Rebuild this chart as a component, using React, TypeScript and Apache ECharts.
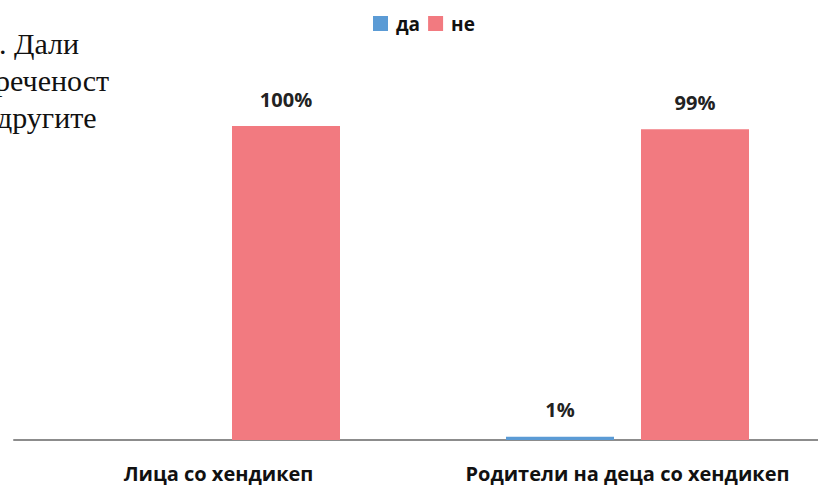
import React, { useEffect, useRef } from "react";
import * as echarts from "echarts";

const categories = ["Лица со хендикеп", "Родители на деца со хендикеп"];
const seriesNames = ["да", "не"];
const daValues = [0, 1];
const neValues = [100, 99];
const sideText = [". Дали", "реченост", "другите"];

export default function App() {
  const ref = useRef<HTMLDivElement>(null);
  useEffect(() => {
    if (!ref.current) return;
    const chart = echarts.init(ref.current, null, { renderer: "svg" });
    const font = "'Open Sans', 'Noto Sans', sans-serif";
    const sideLeft = [-1, -5, -3];
    chart.setOption({
      animation: false,
      backgroundColor: "#ffffff",
      legend: {
        data: seriesNames,
        left: 368,
        top: 9,
        itemWidth: 15,
        itemHeight: 15,
        itemGap: 8,
        icon: "rect",
        textStyle: { fontFamily: font, fontWeight: "bold", fontSize: 19, color: "#111", padding: [0, 0, 0, 3] },
      },
      graphic: sideText.map((t, i) => ({
        type: "text",
        left: sideLeft[i],
        top: 28 + i * 37,
        style: { text: t, font: "30px 'Liberation Serif', 'DejaVu Serif', serif", fill: "#111" },
      })),
      grid: { left: 14, right: 0, top: 126, bottom: 47, containLabel: false },
      xAxis: {
        type: "category",
        data: categories,
        axisLine: { lineStyle: { color: "#8c8c8c", width: 2 } },
        axisTick: { show: false },
        axisLabel: {
          interval: 0,
          hideOverlap: false,
          fontFamily: font,
          fontWeight: "bold",
          fontSize: 20,
          color: "#111",
          margin: 23,
        },
      },
      yAxis: { type: "value", min: 0, max: 100, show: false, splitLine: { show: false } },
      series: [
        {
          name: seriesNames[0],
          type: "bar",
          data: daValues,
          barWidth: 108,
          barGap: "25%",
          itemStyle: { color: "#5b9bd5" },
          label: {
            show: true,
            position: "top",
            distance: 17,
            formatter: (p: any) => (p.value > 0 ? p.value + "%" : ""),
            fontFamily: font,
            fontWeight: "bold",
            fontSize: 20,
            color: "#222",
          },
        },
        {
          name: seriesNames[1],
          type: "bar",
          data: neValues,
          barWidth: 108,
          barGap: "25%",
          itemStyle: { color: "#f27a80" },
          label: {
            show: true,
            position: "top",
            distance: 17,
            formatter: "{c}%",
            fontFamily: font,
            fontWeight: "bold",
            fontSize: 20,
            color: "#222",
          },
        },
      ],
    });
    return () => chart.dispose();
  }, []);
  return (
    <div style={{ width: 818, height: 487, position: "absolute", left: 0, top: 0, overflow: "hidden" }}>
      <div ref={ref} style={{ width: 832, height: 487 }} />
    </div>
  );
}
